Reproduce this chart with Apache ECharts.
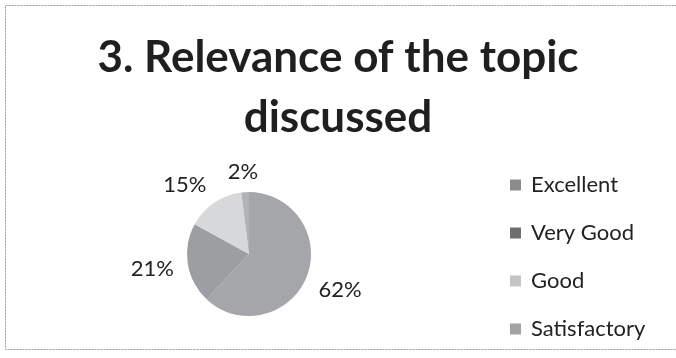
<!DOCTYPE html>
<html>
<head>
<meta charset="utf-8">
<script src="https://cdn.jsdelivr.net/npm/echarts@6/dist/echarts.min.js"></script>
<style>
  html, body { margin: 0; padding: 0; background: #fff; }
  #chart { width: 676px; height: 358px; }
</style>
</head>
<body>
<div id="chart"></div>
<script>
// values
const categories = ['Excellent', 'Very Good', 'Good', 'Satisfactory']
const percents = [62, 21, 15, 2]
const sliceColors = ['#a5a6a9', '#9d9ea1', '#d7d8da', '#b2b3b5']
const swatchColors = ['#8c8c8c', '#6f6f6f', '#c4c4c4', '#a3a3a3']
const titleLines = ['3. Relevance of the topic', 'discussed']

const FONT = 'Lato, "Open Sans", sans-serif'
const chart = echarts.init(document.getElementById('chart'))

const pieData = categories.map((name, i) => ({
  name,
  value: percents[i],
  itemStyle: { color: sliceColors[i] }
}))

// Excel "best fit" pulls the two small labels a bit closer to the pie
const labelNudge = { Good: [-9, 12], Satisfactory: [0, 16] }

chart.setOption({
  backgroundColor: '#fff',
  animation: false,
  title: {
    text: titleLines.join('\n'),
    left: 'center',
    top: 23,
    textStyle: {
      fontFamily: FONT,
      fontWeight: 'bold',
      fontSize: 44,
      lineHeight: 60,
      color: '#1f1f1f'
    }
  },
  legend: {
    orient: 'vertical',
    left: 505,
    top: 168,
    icon: 'rect',
    itemWidth: 11,
    itemHeight: 11,
    itemGap: 24,
    selectedMode: false,
    data: categories.map((name, i) => ({
      name,
      itemStyle: { color: swatchColors[i] }
    })),
    textStyle: {
      fontFamily: FONT,
      fontSize: 22,
      lineHeight: 24,
      color: '#222',
      padding: [0, 0, 0, 5]
    }
  },
  graphic: [{
    type: 'rect',
    silent: true,
    shape: { x: 5.5, y: 5.5, width: 700, height: 344 },
    style: { fill: 'none', stroke: '#9a9a9a', lineWidth: 1, lineDash: [2, 1] }
  }],
  series: [
    {
      // the pie itself
      type: 'pie',
      center: [249, 254],
      radius: 62,
      startAngle: 90,
      clockwise: true,
      silent: true,
      label: { show: false },
      labelLine: { show: false },
      data: pieData
    },
    {
      // invisible ring that carries the percentage labels around the pie
      type: 'pie',
      center: [249, 254],
      radius: [86, 104],
      startAngle: 90,
      clockwise: true,
      silent: true,
      itemStyle: { color: 'rgba(0,0,0,0)' },
      label: {
        show: true,
        position: 'inside',
        formatter: '{c}%',
        fontFamily: FONT,
        fontSize: 22,
        color: '#222'
      },
      labelLine: { show: false },
      data: categories.map((name, i) => ({
        name,
        value: percents[i],
        label: labelNudge[name] ? { offset: labelNudge[name] } : undefined
      }))
    }
  ]
})
</script>
</body>
</html>
